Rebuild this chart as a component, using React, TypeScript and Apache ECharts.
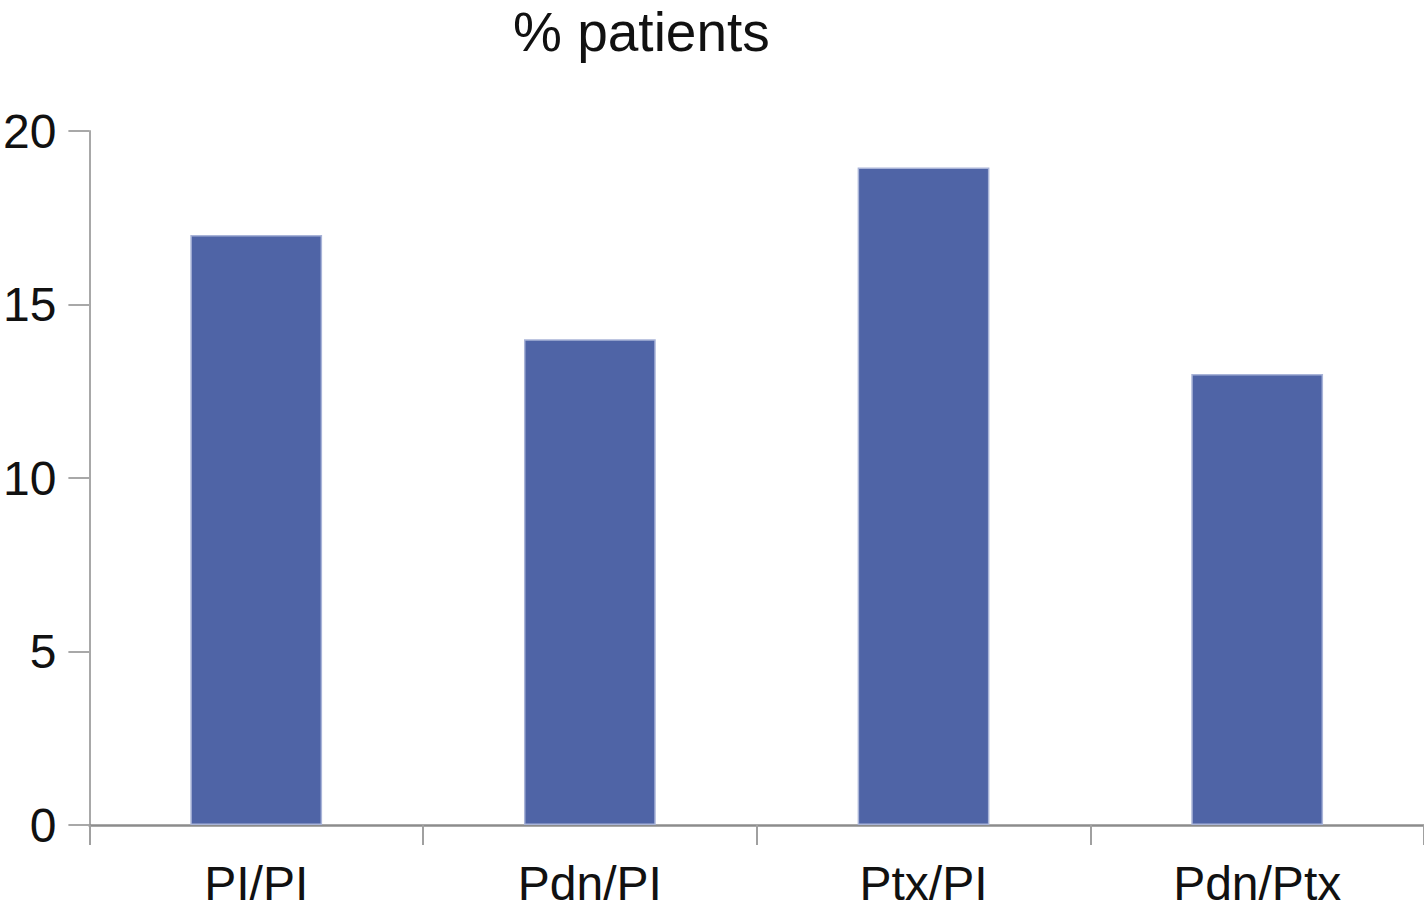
import React, { useEffect, useRef } from "react";
import * as echarts from "echarts";

const categories = ["PI/PI", "Pdn/PI", "Ptx/PI", "Pdn/Ptx"];
const patientPercent = [17, 14, 18.95, 13];
const titleText = "% patients";

export default function App() {
  const ref = useRef<HTMLDivElement>(null);
  useEffect(() => {
    if (!ref.current) return;
    const chart = echarts.init(ref.current, null, { renderer: "svg" });
    chart.setOption({
      animation: false,
      backgroundColor: "#ffffff",
      textStyle: { fontFamily: "Liberation Sans, Arial, sans-serif" },
      title: {
        text: titleText,
        left: 513,
        top: 4,
        padding: 0,
        textStyle: {
          fontSize: 55,
          fontWeight: "normal",
          color: "#111111",
          fontFamily: "Liberation Sans, Arial, sans-serif",
        },
      },
      grid: { left: 86, right: 0, top: 131, bottom: 87, containLabel: false },
      xAxis: {
        type: "category",
        data: categories,
        boundaryGap: true,
        axisLine: { show: true, lineStyle: { color: "#8c8c8c", width: 2.5 } },
        axisTick: { show: true, length: 20, lineStyle: { color: "#a0a0a0", width: 2 } },
        axisLabel: {
          margin: 34,
          fontSize: 48,
          color: "#111111",
          fontFamily: "Liberation Sans, Arial, sans-serif",
        },
        splitLine: { show: false },
      },
      yAxis: {
        type: "value",
        min: 0,
        max: 20,
        interval: 5,
        axisLine: { show: true, lineStyle: { color: "#a8a8a8", width: 2 } },
        axisTick: { show: true, length: 21, lineStyle: { color: "#a8a8a8", width: 2 } },
        axisLabel: {
          margin: 33,
          fontSize: 48,
          color: "#111111",
          fontFamily: "Liberation Sans, Arial, sans-serif",
        },
        splitLine: { show: false },
      },
      series: [
        {
          type: "bar",
          data: patientPercent,
          barWidth: "39.5%",
          itemStyle: {
            color: "#4F64A6",
            borderColor: "#A9B4D8",
            borderWidth: 1.5,
          },
        },
      ],
    });
    return () => chart.dispose();
  }, []);
  return (
    <div
      ref={ref}
      style={{ position: "fixed", left: 0, top: 0, width: 1424, height: 912 }}
    />
  );
}
